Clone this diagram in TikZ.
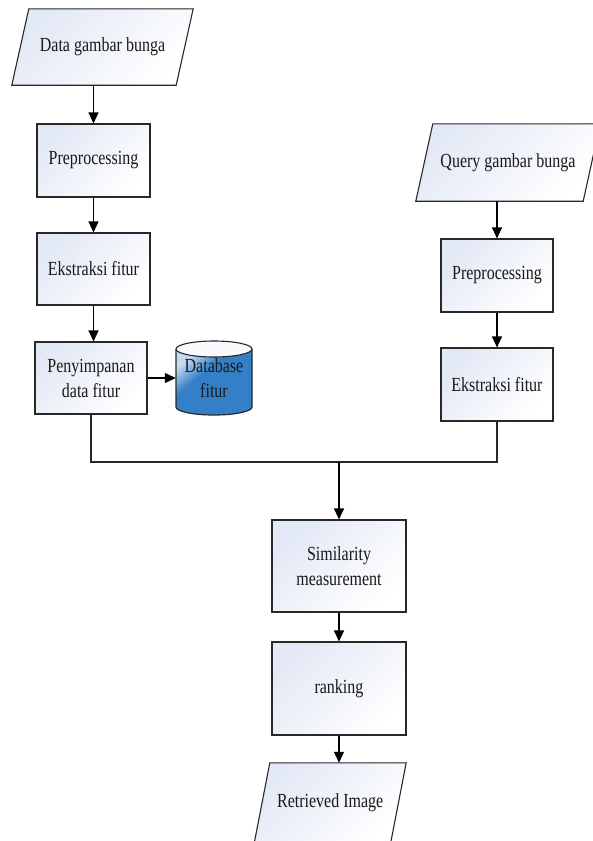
\documentclass[tikz,border=0pt]{standalone}
\usepackage{fontspec}
\setmainfont[FakeStretch=0.8]{Liberation Serif}
\usetikzlibrary{arrows.meta,backgrounds,calc}
\definecolor{boxtop}{RGB}{226,232,245}
\definecolor{edge}{RGB}{40,40,40}
\definecolor{cyllight}{RGB}{200,218,240}
\definecolor{cylblue}{RGB}{52,128,200}
\definecolor{cyltop}{RGB}{248,250,253}
\definecolor{txt}{RGB}{25,25,25}
\pgfdeclarehorizontalshading{cylsh}{100bp}{color(0bp)=(cyllight); color(25bp)=(cyllight); color(40bp)=(cylblue); color(100bp)=(cylblue)}
\begin{document}
\begin{tikzpicture}[x=1pt,y=-1pt,
  font=\fontsize{20}{25}\selectfont,
  shadefill/.style={draw=edge, line width=1.1pt, top color=boxtop, bottom color=white, shading angle=45},
  proc/.style={shadefill, rectangle, align=center, inner sep=2pt, text=txt},
  iotext/.style={rectangle, align=center, inner sep=2pt, text=txt},
  arr/.style={draw=black, line width=1.1pt, -{Triangle[width=10pt,length=11pt]}},
  link/.style={draw=black!85, line width=1.1pt}
]
\path[use as bounding box, clip] (0,0) rectangle (592,841);

% left column
\node[iotext, minimum width=164pt, minimum height=76pt] (data) at (102.5,47) {Data gambar bunga};
\node[proc, minimum width=113pt, minimum height=73pt] (pre1) at (93.5,160.5) {Preprocessing};
\node[proc, minimum width=113pt, minimum height=72pt] (ext1) at (93.5,269) {Ekstraksi fitur};
\node[proc, minimum width=112pt, minimum height=72pt] (pen) at (91,378) {Penyimpanan\\data fitur};

% right column
\node[iotext, minimum width=167pt, minimum height=77pt] (query) at (508,162.5) {Query gambar bunga};
\node[proc, minimum width=112pt, minimum height=73pt] (pre2) at (497,275.5) {Preprocessing};
\node[proc, minimum width=112pt, minimum height=73pt] (ext2) at (497,384.5) {Ekstraksi fitur};

% bottom column
\node[proc, minimum width=134pt, minimum height=92pt] (sim) at (339,566) {Similarity\\measurement};
\node[proc, minimum width=134pt, minimum height=93pt] (rank) at (339,688.5) {ranking};
\node[iotext, minimum width=136pt, minimum height=80pt] (ret) at (330.2,803) {Retrieved Image};

% parallelogram outlines behind the texts
\begin{scope}[on background layer]
\path[shadefill] ([xshift=-8.5pt]data.south west) -- ([xshift=8.5pt]data.north west) -- ([xshift=8.5pt]data.north east) -- ([xshift=-8.5pt]data.south east) -- cycle;
\path[shadefill] ([xshift=-8.5pt]query.south west) -- ([xshift=8.5pt]query.north west) -- ([xshift=8.5pt]query.north east) -- ([xshift=-8.5pt]query.south east) -- cycle;
\path[shadefill] ([xshift=-7.8pt]ret.south west) -- ([xshift=7.8pt]ret.north west) -- ([xshift=7.8pt]ret.north east) -- ([xshift=-7.8pt]ret.south east) -- cycle;
\end{scope}

% database cylinder
\path[shading=cylsh, shading angle=-50] (176,349) -- (176,407) arc[start angle=180, end angle=360, x radius=38pt, y radius=8pt] -- (252,349) -- cycle;
\draw[edge, line width=1.2pt] (176,349) -- (176,407) arc[start angle=180, end angle=360, x radius=38pt, y radius=8pt] -- (252,349);
\draw[edge, line width=1.1pt, fill=cyltop] (214,349) ellipse[x radius=38pt, y radius=8pt];
\node[minimum width=76pt, minimum height=74pt, align=center, inner sep=0pt, text=txt] (db) at (214,378) {Database\\fitur};

% connectors
\draw[arr] (data.south -| pre1.north) -- (pre1.north);
\draw[arr] (pre1.south) -- (ext1.north);
\draw[arr] (ext1.south) -- (ext1.south |- pen.north);
\draw[arr] (pen.east) -- (pen.east -| db.west);
\draw[arr] (query.south -| pre2.north) -- (pre2.north);
\draw[arr] (pre2.south) -- (ext2.north);
\coordinate (j) at (339,462);
\draw[link] (pen.south) |- (j) -| (ext2.south);
\draw[arr] (j) -- (sim.north);
\draw[arr] (sim.south) -- (rank.north);
\draw[arr] (rank.south) -- (rank.south |- ret.north);
\end{tikzpicture}
\end{document}
